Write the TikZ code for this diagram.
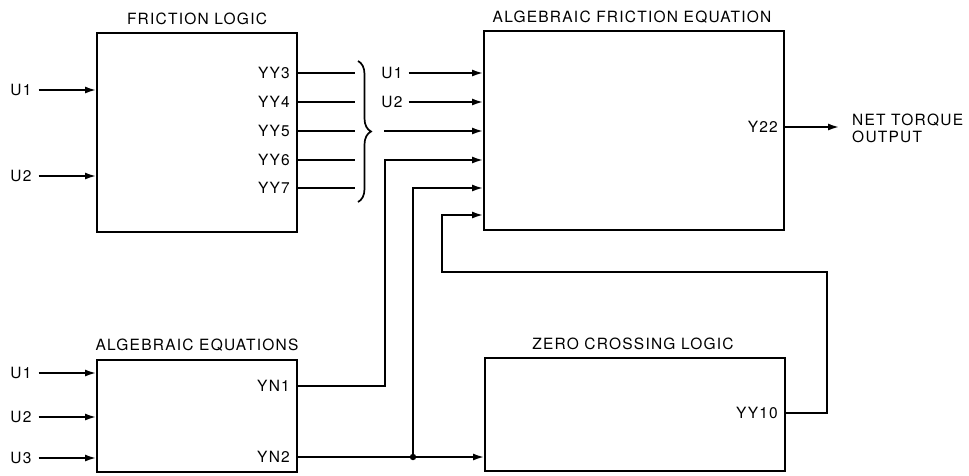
\documentclass[tikz,border=0pt]{standalone}
\usepackage{fontspec}
\setmainfont{TeX Gyre Heros}[LetterSpace=8]
\usetikzlibrary{arrows.meta,decorations.pathreplacing}
\begin{document}
\begin{tikzpicture}[x=1pt,y=-1pt,
  every node/.style={font=\fontsize{15.5}{17}\selectfont, inner sep=2pt},
  box/.style={draw, line width=2pt, inner sep=0pt, outer sep=0pt, anchor=north west},
  port/.style={anchor=east},
  wire/.style={line width=2.4pt},
  arr/.style={wire, -{Latex[length=12pt,width=7pt]}},
  bracestyle/.style={line width=1.7pt, decorate, decoration={brace, amplitude=13pt}}
]
\useasboundingbox (0,0) rectangle (969,475);

% boxes
\node[box, minimum width=200pt, minimum height=199pt] (fl) at (97,33) {};
\node[box, minimum width=300pt, minimum height=199pt] (afe) at (484,31) {};
\node[box, minimum width=200pt, minimum height=112pt] (ae) at (97,360) {};
\node[box, minimum width=300pt, minimum height=113pt] (zcl) at (485,358) {};

% titles
\node (flt) at (197,18.5) {FRICTION LOGIC};
\node (afet) at (632,17.5) {ALGEBRAIC FRICTION EQUATION};
\node (aet) at (197,345.5) {ALGEBRAIC EQUATIONS};
\node (zclt) at (633,344) {ZERO CROSSING LOGIC};

% inputs of friction logic
\node (fu1) at (21,90) {U1};
\node (fu2) at (21,176) {U2};
\draw[arr, shorten <=5pt] (fu1.east) -- (fl.west |- fu1);
\draw[arr, shorten <=5pt] (fu2.east) -- (fl.west |- fu2);

% inputs of algebraic equations
\node (au1) at (21,373) {U1};
\node (au2) at (21,417) {U2};
\node (au3) at (21,458) {U3};
\draw[arr, shorten <=5pt] (au1.east) -- (ae.west |- au1);
\draw[arr, shorten <=5pt] (au2.east) -- (ae.west |- au2);
\draw[arr, shorten <=5pt] (au3.east) -- (ae.west |- au3);

% friction logic outputs
\node[port] (yy3) at (292,73) {YY3};
\node[port] (yy4) at (292,102) {YY4};
\node[port] (yy5) at (292,131) {YY5};
\node[port] (yy6) at (292,160) {YY6};
\node[port] (yy7) at (292,188) {YY7};
\coordinate (b3) at (355,73);
\coordinate (b4) at (355,102);
\coordinate (b5) at (355,131);
\coordinate (b6) at (355,160);
\coordinate (b7) at (355,188);
\draw[wire] (fl.east |- yy3) -- (b3);
\draw[wire] (fl.east |- yy4) -- (b4);
\draw[wire] (fl.east |- yy5) -- (b5);
\draw[wire] (fl.east |- yy6) -- (b6);
\draw[wire] (fl.east |- yy7) -- (b7);

% brace
\coordinate (brtop) at (358,61);
\coordinate (brbot) at (358,202);
\draw[bracestyle] (brtop) -- (brbot);

% inputs of algebraic friction equation
\node (bu1) at (392,73) {U1};
\node (bu2) at (392,102) {U2};
\draw[arr, shorten <=4pt] (bu1.east) -- (afe.west |- bu1);
\draw[arr, shorten <=4pt] (bu2.east) -- (afe.west |- bu2);
\coordinate (c5) at (384,131);
\draw[arr] (c5) -- (afe.west |- c5);

% algebraic equations outputs
\node[port] (yn1) at (292,386) {YN1};
\node[port] (yn2) at (292,457) {YN2};
\coordinate (c6) at (385,160);
\draw[arr] (ae.east |- yn1) -| (c6) -- (afe.west |- c6);
\coordinate (j) at (413,457);
\coordinate (c7) at (413,188);
\draw[arr] (ae.east |- yn2) -- (zcl.west |- yn2);
\draw[arr] (j) -- (c7) -- (afe.west |- c7);
\fill (j) circle (3.2pt);

% zero crossing output
\node[port] (yy10) at (780,413) {YY10};
\coordinate (r1) at (827,272);
\coordinate (c8) at (442,215);
\draw[arr] (zcl.east |- yy10) -| (r1) -| (c8) -- (afe.west |- c8);

% net torque output
\node[port] (y22) at (780,127) {Y22};
\node[anchor=west, align=left] (net) at (850,128.5) {NET TORQUE\\OUTPUT};
\draw[arr, shorten >=10pt] (afe.east |- y22) -- (net.west |- y22);
\end{tikzpicture}
\end{document}
